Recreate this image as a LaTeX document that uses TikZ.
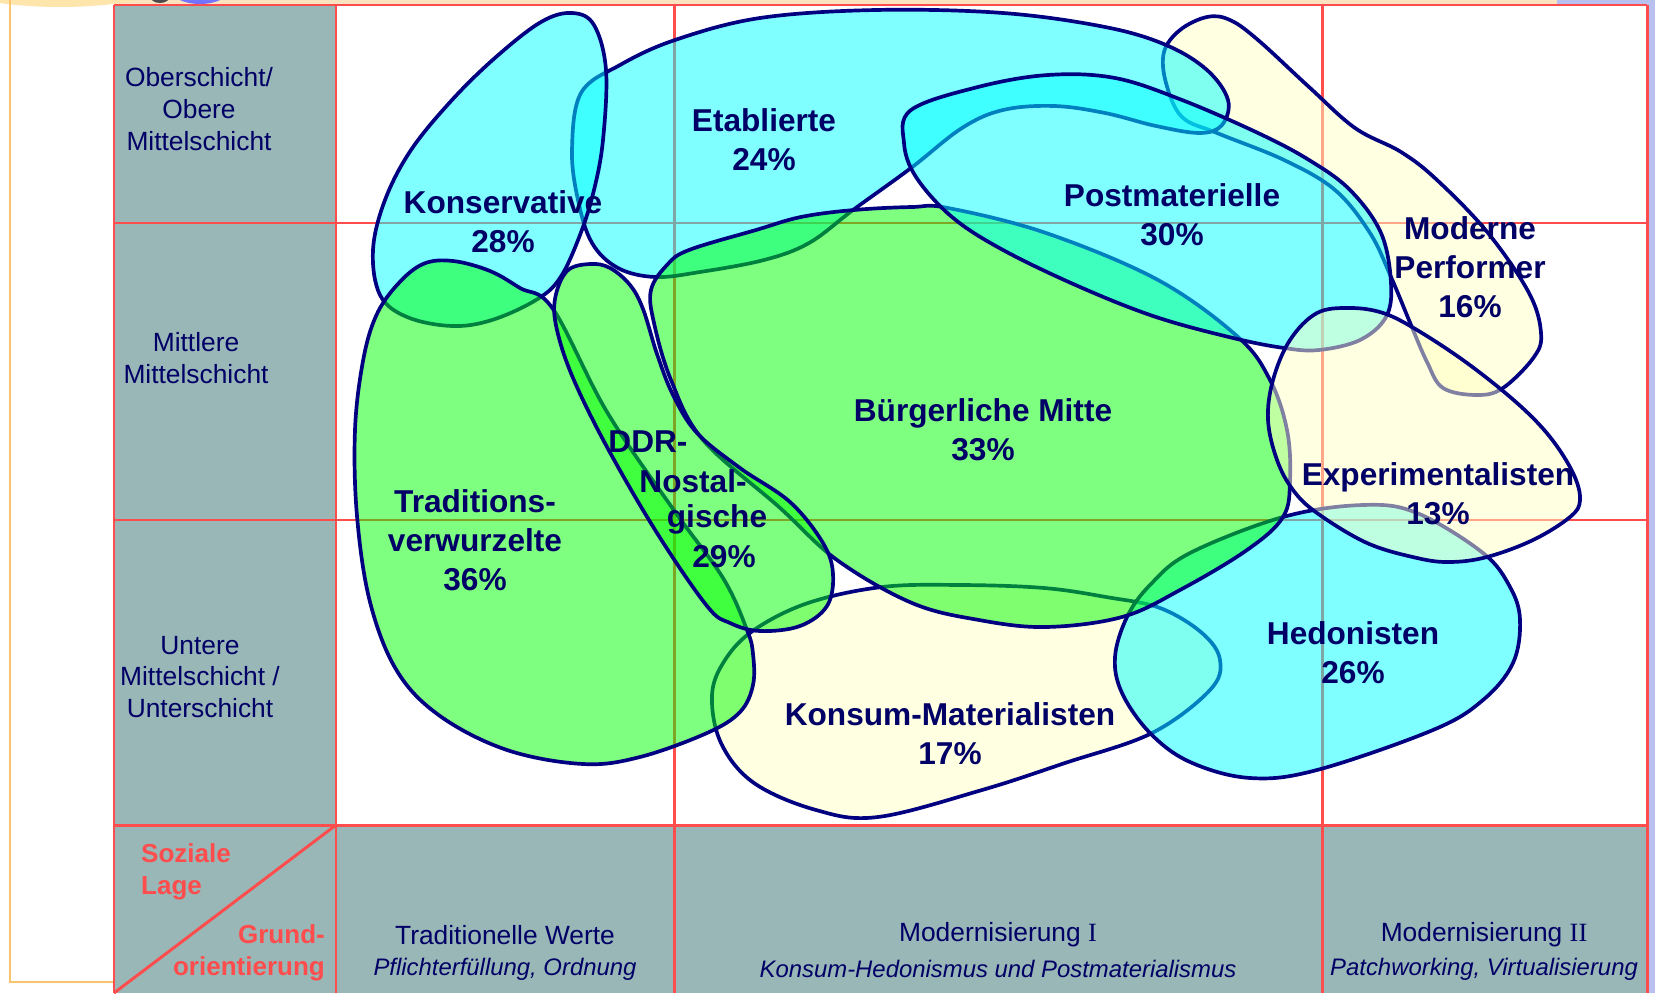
\documentclass[tikz,border=0pt]{standalone}
\usepackage{fontspec}
\setmainfont{Liberation Sans}
\newfontfamily\romanfont{Liberation Serif}
\usepackage{tikz}
\colorlet{gridred}{red!70!white}
\definecolor{cellgray}{RGB}{152,183,182}
\definecolor{navyline}{RGB}{0,0,128}
\definecolor{navytext}{RGB}{0,0,102}
\definecolor{milcyan}{RGB}{0,255,255}
\definecolor{milgreen}{RGB}{0,255,0}
\definecolor{milyellow}{RGB}{255,255,196}
\definecolor{frameorange}{RGB}{249,196,110}
\definecolor{sidelavender}{RGB}{184,192,240}
\definecolor{toppeach}{RGB}{251,227,192}

\begin{document}
\begin{tikzpicture}[x=0.02cm, y=-0.02cm,
    milieu/.style={draw=navyline, line width=2.1pt, fill opacity=0.5},
    gridline/.style={draw=gridred, line width=1.7pt},
    lbl/.style={text=navytext, align=center, font=\fontsize{18}{22.2}\selectfont\bfseries},
    rowlbl/.style={text=navytext, align=center, font=\fontsize{15}{18}\selectfont},
    collbl/.style={text=navytext, font=\fontsize{15}{18}\selectfont},
    colsub/.style={text=navytext, font=\fontsize{13.6}{16}\selectfont\itshape},
    axislbl/.style={text=gridred, font=\fontsize{14.8}{18}\selectfont\bfseries}]
    \path[use as bounding box] (0,0) rectangle (1655,993);
    \clip (0,0) rectangle (1655,993);

    % --- Slide background ---
    \fill[white] (0,0) rectangle (1655,993);
    \fill[sidelavender] (1557,0) rectangle (1655,993);
    \fill[toppeach] (114,0) rectangle (1557,5);
    \fill[yellow!40!orange!30] (60,-28) ellipse [x radius=2.6cm, y radius=0.7cm];
    \fill[black!70] (160,-4) ellipse [x radius=0.2cm, y radius=0.14cm];
    \fill[blue!55!white] (200,-6) ellipse [x radius=0.5cm, y radius=0.2cm];
    \draw[frameorange, line width=1.5pt] (10,-10) -- (10,982) -- (114,982);

    % --- Table: cells and grid ---
    \fill[white] (114,5) rectangle (1647,993);
    \fill[cellgray] (114,5) rectangle (336,825);
    \fill[cellgray] (114,825) rectangle (1647,993);
    \draw[gridline] (114,5) -- (1647,5);
    \draw[gridline] (114,223) -- (1647,223);
    \draw[gridline] (114,520) -- (1647,520);
    \draw[gridline] (114,825) -- (1647,825);
    \draw[gridline] (114,5) -- (114,993);
    \draw[gridline] (336,5) -- (336,993);
    \draw[gridline] (674,5) -- (674,993);
    \draw[gridline] (1322,5) -- (1322,993);
    \draw[gridline] (1647,5) -- (1647,993);
    \draw[gridline] (336,825) -- (114,993);

    % --- Milieus (drawing order gives the overlaps) ---
    % Moderne Performer
    \draw[milieu, fill=milyellow] plot[smooth cycle, tension=0.6] coordinates {(1207,17) (1230,20) (1258,40) (1309,87) (1355,128) (1401,152) (1437,180) (1488,233) (1529,293) (1541,333) (1534,357) (1503,388) (1477,395) (1443,388) (1427,362) (1411,325) (1391,277) (1370,233) (1335,190) (1284,160) (1217,133) (1182,117) (1166,83) (1164,52) (1180,30)};
    % Etablierte
    \draw[milieu, fill=milcyan] plot[smooth cycle, tension=0.6] coordinates {(581,93) (620,65) (675,40) (760,18) (876,10) (1003,13) (1105,27) (1166,45) (1207,70) (1228,100) (1222,125) (1200,133) (1156,126) (1105,113) (1054,106) (1003,110) (962,128) (911,168) (853,210) (809,243) (764,260) (700,272) (655,277) (618,268) (592,243) (578,200) (572,150)};
    % Konservative
    \draw[milieu, fill=milcyan] plot[smooth cycle, tension=0.6] coordinates {(572,13) (594,25) (606,70) (603,140) (594,190) (580,235) (560,278) (536,300) (492,320) (452,326) (407,317) (380,295) (373,250) (385,200) (411,150) (452,100) (496,57) (541,22)};
    % Konsum-Materialisten
    \draw[milieu, fill=milyellow] plot[smooth cycle, tension=0.6] coordinates {(725,660) (754,630) (808,603) (882,587) (961,585) (1044,588) (1106,597) (1160,608) (1202,633) (1220,660) (1210,690) (1152,733) (1065,763) (982,790) (878,817) (816,810) (754,783) (721,743) (712,695)};
    % Traditionsverwurzelte
    \draw[milieu, fill=milgreen] plot[smooth cycle, tension=0.6] coordinates {(453,261) (423,264) (397,285) (376,316) (363,361) (355,430) (357,516) (370,602) (397,671) (440,716) (507,750) (583,764) (640,757) (707,733) (740,712) (753,685) (753,654) (747,630) (723,578) (673,509) (607,412) (553,309) (520,288) (490,271)};
    % Hedonisten
    \draw[milieu, fill=milcyan] plot[smooth cycle, tension=0.6] coordinates {(1127,617) (1150,585) (1190,553) (1283,517) (1363,505) (1417,513) (1483,553) (1510,587) (1520,620) (1513,663) (1483,700) (1433,730) (1317,770) (1250,778) (1190,762) (1150,733) (1122,693) (1115,657)};
    % Buergerliche Mitte
    \draw[milieu, fill=milgreen] plot[smooth cycle, tension=0.6] coordinates {(651,290) (667,265) (689,250) (756,230) (801,217) (854,210) (912,207) (948,208) (1046,233) (1158,280) (1238,337) (1270,380) (1287,430) (1290,480) (1283,517) (1247,550) (1180,590) (1122,617) (1046,627) (979,620) (912,603) (837,560) (779,507) (703,440) (671,380) (654,323)};
    % DDR-Nostalgische
    \draw[milieu, fill=milgreen] plot[smooth cycle, tension=0.6] coordinates {(590,264) (567,271) (555,299) (557,330) (573,378) (607,447) (657,533) (707,606) (730,623) (760,631) (800,626) (827,606) (833,574) (823,543) (790,502) (740,468) (697,433) (673,395) (657,354) (643,309) (630,285) (610,268)};
    % Postmaterielle
    \draw[milieu, fill=milcyan] plot[smooth cycle, tension=0.6] coordinates {(911,110) (978,87) (1048,75) (1115,78) (1182,100) (1258,133) (1309,160) (1350,190) (1381,233) (1391,283) (1386,317) (1360,340) (1319,350) (1284,348) (1233,338) (1156,317) (1080,287) (1003,250) (952,217) (916,177) (904,143)};
    % Experimentalisten
    \draw[milieu, fill=milyellow] plot[smooth cycle, tension=0.6] coordinates {(1350,308) (1317,313) (1290,340) (1273,380) (1268,420) (1277,460) (1293,490) (1317,513) (1367,543) (1417,558) (1450,562) (1487,557) (1533,540) (1570,517) (1580,500) (1573,473) (1550,437) (1517,403) (1467,363) (1417,330) (1383,313)};

    % --- Milieu labels ---
    \node[lbl] (etab) at (764,140) {Etablierte\\24\%};
    \node[lbl] (kons) at (503,222) {Konservative\\28\%};
    \node[lbl] (postmat) at (1172,215) {Postmaterielle\\30\%};
    \node[lbl] (modperf) at (1470,267) {Moderne\\Performer\\16\%};
    \node[lbl] (buerg) at (983,430) {Bürgerliche Mitte\\33\%};
    \node[lbl] (ddra) at (648,442) {DDR-};
    \node[lbl] (ddrb) at (693,481) {Nostal-};
    \node[lbl] (ddrc) at (717,519) {gische};
    \node[lbl] (ddrd) at (724,557) {29\%};
    \node[lbl] (trad) at (475,540) {Traditions-\\verwurzelte\\36\%};
    \node[lbl] (exper) at (1438,494) {Experimentalisten\\13\%};
    \node[lbl] (hedo) at (1353,653) {Hedonisten\\26\%};
    \node[lbl] (konsum) at (950,734) {Konsum-Materialisten\\17\%};

    % --- Row headings: soziale Lage ---
    \node[rowlbl] (oben) at (199,109) {Oberschicht/\\Obere\\Mittelschicht};
    \node[rowlbl] (mitte) at (196,358) {Mittlere\\Mittelschicht};
    \node[rowlbl] (unten) at (200,677) {Untere\\Mittelschicht /\\Unterschicht};

    % --- Corner cell ---
    \node[axislbl, align=left, anchor=west] (lage) at (135,872) {Soziale\\Lage};
    \node[axislbl, align=right, anchor=east] (grund) at (331,953) {Grund-\\orientierung};

    % --- Column headings: Grundorientierung ---
    \node[collbl] (tradw) at (505,935) {Traditionelle Werte};
    \node[colsub] (tradsub) at (505,969) {Pflichterfüllung, Ordnung};
    \node[collbl] (modeins) at (998,935) {Modernisierung {\romanfont I}};
    \node[colsub] (modeinssub) at (998,969) {Konsum-Hedonismus und Postmaterialismus};
    \node[collbl] (modzwei) at (1484,935) {Modernisierung {\romanfont II}};
    \node[colsub] (modzweisub) at (1484,969) {Patchworking, Virtualisierung};
\end{tikzpicture}
\end{document}
